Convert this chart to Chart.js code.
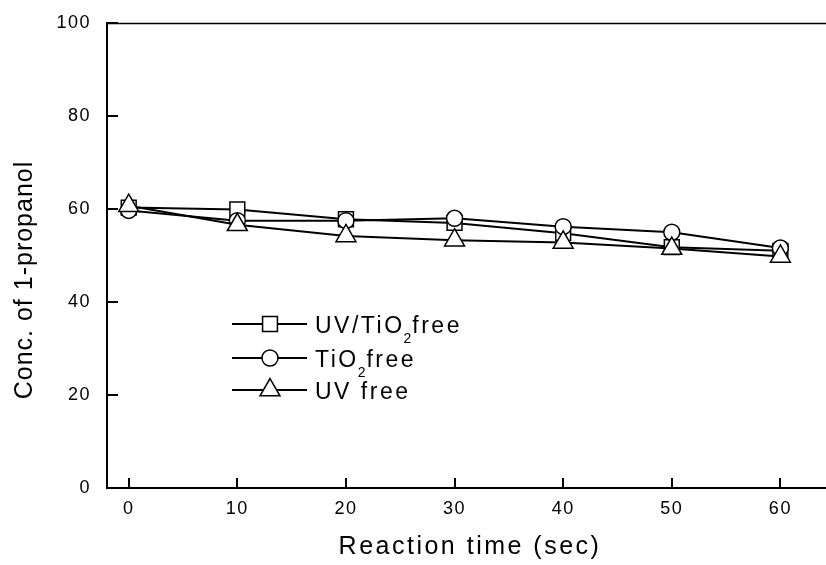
<!DOCTYPE html>
<html>
<head>
<meta charset="UTF-8">
<title>Conc. of 1-propanol vs reaction time</title>
<script src="https://cdn.jsdelivr.net/npm/chart.js@4.4.0/dist/chart.umd.min.js"></script>
<style>
  body { margin: 0; background: #fff; }
</style>
</head>
<body>
<canvas id="mychart" width="826" height="565"></canvas>
<script>
// values
const times = [0, 10, 20, 30, 40, 50, 60];
const uvTiO2Free = [60.3, 59.9, 57.8, 57.0, 54.8, 51.8, 51.0];
const tiO2Free = [59.7, 57.5, 57.5, 58.0, 56.2, 55.0, 51.6];
const uvFree = [60.7, 56.6, 54.2, 53.3, 52.8, 51.5, 49.8];
const xTicks = [0, 10, 20, 30, 40, 50, 60];
const yTicks = [0, 20, 40, 60, 80, 100];
// legend label: [text, subscript, text after]
const names = [['UV/TiO', '2', 'free'], ['TiO', '2', 'free'], ['UV free', '', '']];
const xTitle = 'Reaction time (sec)';
const yTitle = 'Conc. of 1-propanol';

const FONT = "'Liberation Sans', Arial, sans-serif";

function marker(ctx, style, x, y, r) {
    ctx.beginPath();
    if (style == 'circle') {
        ctx.arc(x, y, r, 0, Math.PI * 2);
    } else if (style == 'rect') {
        const s = r * Math.SQRT1_2;
        ctx.rect(x - s, y - s, 2 * s, 2 * s);
    } else {
        for (let i = 0; i < 3; i++) {
            const a = i * 2 * Math.PI / 3;
            const px = x + Math.sin(a) * r, py = y - Math.cos(a) * r;
            if (i == 0) ctx.moveTo(px, py); else ctx.lineTo(px, py);
        }
        ctx.closePath();
    }
    ctx.fillStyle = '#fff';
    ctx.fill();
    ctx.lineWidth = 1.5;
    ctx.strokeStyle = '#000';
    ctx.stroke();
}

const decor = {
    id: 'decor',
    beforeUpdate(chart) { chart.ctx.letterSpacing = '1.5px'; },
    beforeDraw(chart) { chart.ctx.letterSpacing = '1.5px'; },
    beforeDatasetsDraw(chart) {
        const ctx = chart.ctx, a = chart.chartArea;
        const xs = chart.scales.x, ys = chart.scales.y;
        ctx.save();
        ctx.strokeStyle = '#000';
        // top frame line
        ctx.lineWidth = 1.5;
        ctx.beginPath();
        ctx.moveTo(a.left, a.top + 0.5);
        ctx.lineTo(a.right, a.top + 0.5);
        ctx.stroke();
        // inward ticks
        ctx.lineWidth = 2;
        ctx.beginPath();
        xTicks.forEach(v => {
            const px = Math.round(xs.getPixelForValue(v));
            ctx.moveTo(px, a.bottom);
            ctx.lineTo(px, a.bottom - 10);
        });
        yTicks.forEach(v => {
            const py = Math.round(ys.getPixelForValue(v));
            ctx.moveTo(a.left, py);
            ctx.lineTo(a.left + 11, py);
        });
        ctx.stroke();
        ctx.restore();
    },
    afterDraw(chart) {
        const ctx = chart.ctx;
        ctx.save();
        ctx.fillStyle = '#000';
        // axis titles
        ctx.font = '25px ' + FONT;
        ctx.letterSpacing = '2.5px';
        ctx.textAlign = 'center';
        ctx.textBaseline = 'middle';
        ctx.fillText(xTitle, 470, 547);
        ctx.letterSpacing = '1px';
        ctx.translate(25, 280);
        ctx.rotate(-Math.PI / 2);
        ctx.fillText(yTitle, 0, 0);
        ctx.setTransform(1, 0, 0, 1, 0, 0);
        // legend
        const rows = [324, 358, 390];
        ctx.textAlign = 'left';
        ctx.textBaseline = 'alphabetic';
        chart.data.datasets.forEach((ds, i) => {
            const y = rows[i];
            ctx.strokeStyle = '#000';
            ctx.lineWidth = 2;
            ctx.beginPath();
            ctx.moveTo(232, y);
            ctx.lineTo(307, y);
            ctx.stroke();
            marker(ctx, ds.pointStyle, 270, y, ds.pointRadius);
            let x = 315;
            ctx.fillStyle = '#000';
            ctx.letterSpacing = '2.5px';
            ctx.font = '23px ' + FONT;
            ctx.fillText(names[i][0], x, y + 8.5);
            x += ctx.measureText(names[i][0]).width;
            if (names[i][1]) {
                ctx.font = '14px ' + FONT;
                ctx.letterSpacing = '0px';
                ctx.fillText(names[i][1], x - 1, y + 19);
                x += ctx.measureText(names[i][1]).width;
                ctx.font = '23px ' + FONT;
                ctx.letterSpacing = '2.5px';
                ctx.fillText(names[i][2], x, y + 8.5);
            }
        });
        ctx.restore();
    }
};

const pts = arr => times.map((t, i) => ({ x: t, y: arr[i] }));

const ctx = document.getElementById('mychart');
const mychart = new Chart(ctx, {
    type: 'line',
    data: {
        datasets: [{
            label: 'UV/TiO2 free',
            data: pts(uvTiO2Free),
            pointStyle: 'rect',
            pointRadius: 10.5,
            order: 3,
        }, {
            label: 'TiO2 free',
            data: pts(tiO2Free),
            pointStyle: 'circle',
            pointRadius: 8,
            order: 2,
        }, {
            label: 'UV free',
            data: pts(uvFree),
            pointStyle: 'triangle',
            pointRadius: 11.5,
            order: 1,
        }].map(d => Object.assign(d, {
            borderColor: '#000',
            borderWidth: 2,
            pointBackgroundColor: '#fff',
            pointBorderColor: '#000',
            pointBorderWidth: 1.5,
            fill: false,
            tension: 0,
        })),
    },
    options: {
        responsive: false,
        animation: false,
        events: [],
        layout: { autoPadding: false, padding: { top: 23, left: 0, right: 0, bottom: 0 } },
        plugins: {
            legend: { display: false },
            tooltip: { enabled: false },
        },
        scales: {
            x: {
                type: 'linear',
                min: -2,
                max: 64.2,
                afterBuildTicks: s => { s.ticks = xTicks.map(v => ({ value: v })); },
                afterFit: s => { s.height = 77; s.paddingLeft = 0; s.paddingRight = 0; },
                grid: { display: false, drawTicks: false },
                border: { display: true, color: '#000', width: 2 },
                ticks: {
                    color: '#000',
                    font: { family: FONT, size: 18 },
                    padding: 10,
                    maxRotation: 0,
                    autoSkip: false,
                },
            },
            y: {
                min: 0,
                max: 100,
                afterBuildTicks: s => { s.ticks = yTicks.map(v => ({ value: v })); },
                afterFit: s => { s.width = 107; s.paddingTop = 0; s.paddingBottom = 0; },
                grid: { display: false, drawTicks: false },
                border: { display: true, color: '#000', width: 2 },
                ticks: {
                    color: '#000',
                    font: { family: FONT, size: 18 },
                    padding: 16,
                },
            },
        },
    },
    plugins: [decor],
});
</script>
</body>
</html>
